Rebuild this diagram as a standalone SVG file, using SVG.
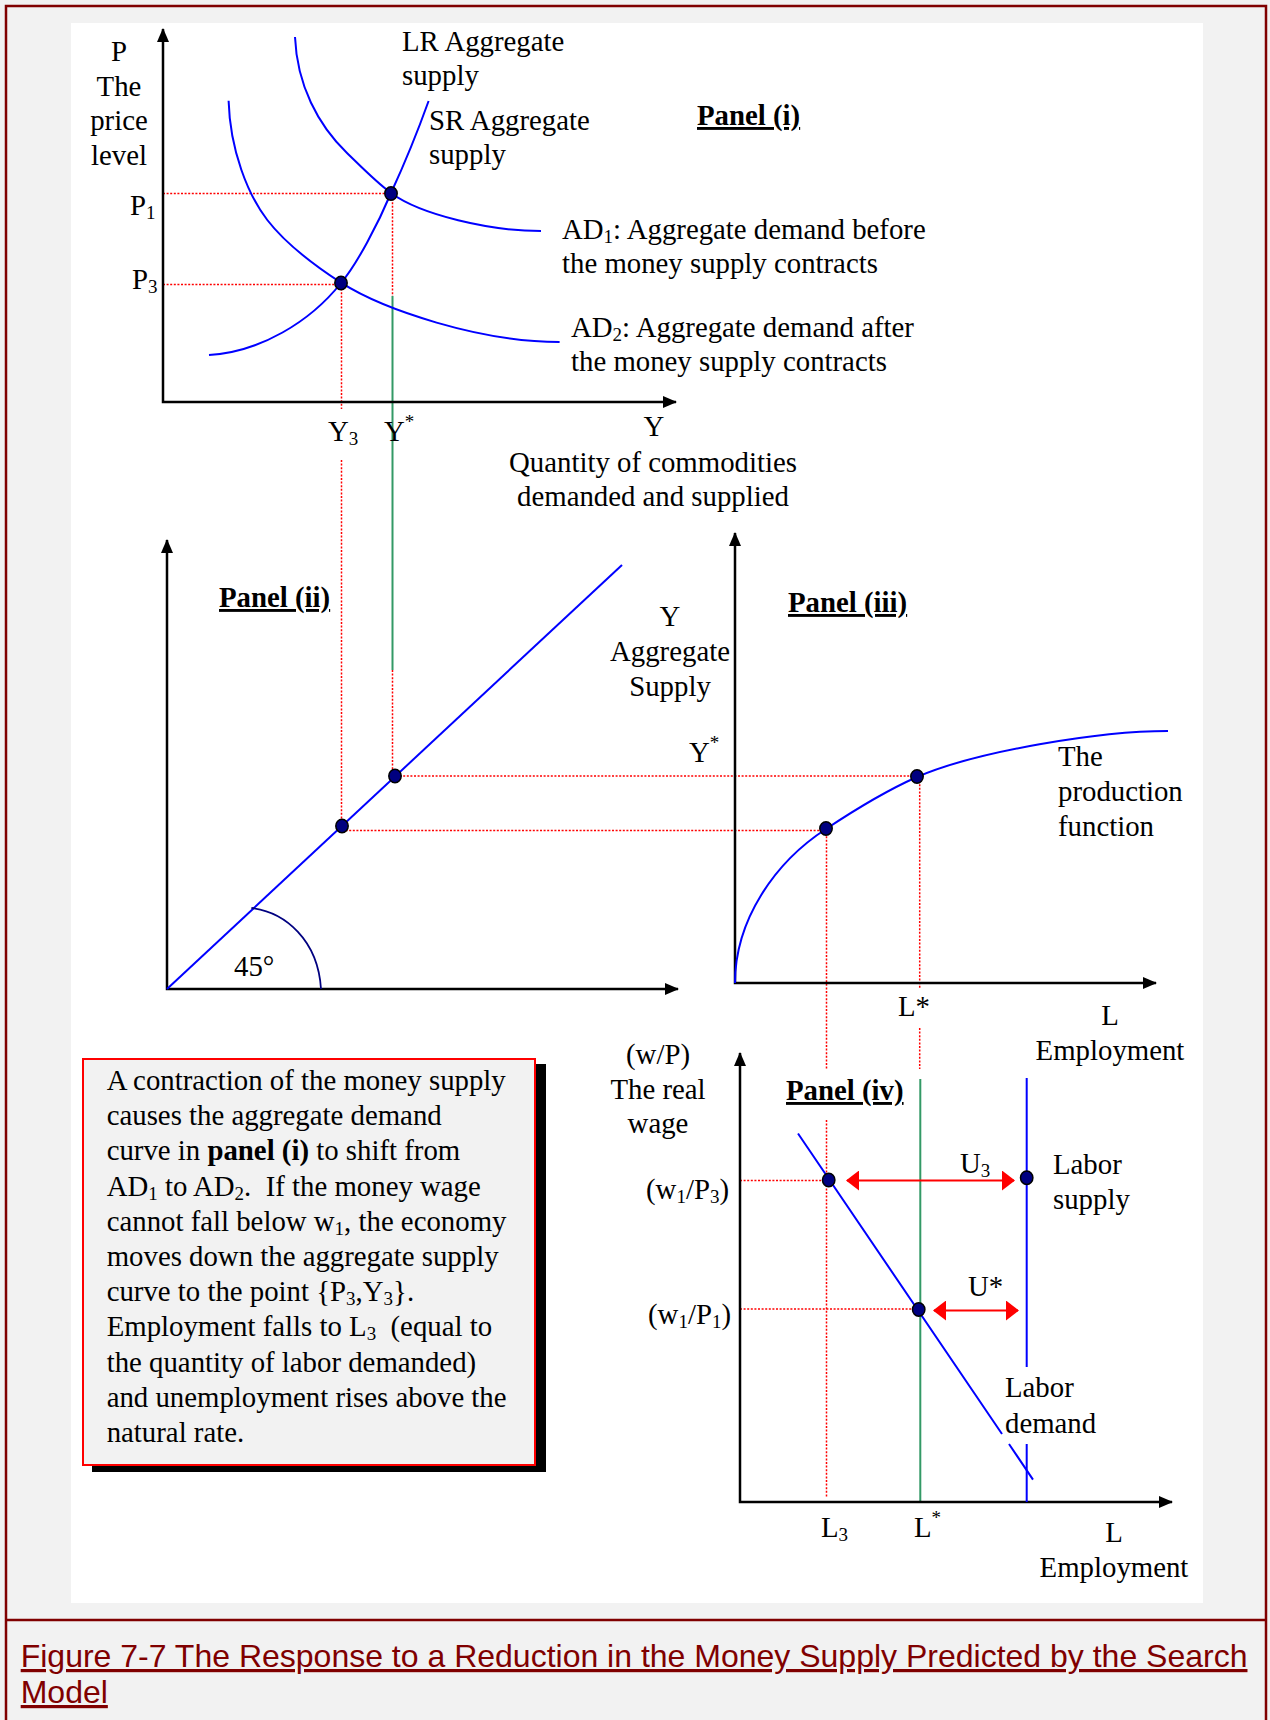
<svg xmlns="http://www.w3.org/2000/svg" width="1270" height="1720" viewBox="0 0 1270 1720">
<style>
.t{font-family:"Liberation Serif","Times New Roman",serif;font-size:28.8px;fill:#000}
.b{font-weight:bold;text-decoration:underline}
.m{text-anchor:middle}
.s{font-size:19px}
.cap{font-family:"Liberation Sans",Arial,sans-serif;font-size:32px;fill:#800000;text-decoration:underline}
.axis{fill:none;stroke:#000;stroke-width:2.5}
.curve{fill:none;stroke:#0000ff;stroke-width:2}
.dot{fill:#000080;stroke:#000;stroke-width:1.5}
.rd{fill:none;stroke:#ff0000;stroke-width:1.5;stroke-dasharray:2 1.6}
.gr{fill:none;stroke:#339966;stroke-width:2}
.ra{fill:none;stroke:#ff0000;stroke-width:2}
.frame{fill:none;stroke:#800000;stroke-width:2.5}
</style>
<defs>
<marker id="ax" markerUnits="userSpaceOnUse" markerWidth="14" markerHeight="12" refX="13" refY="6" orient="auto-start-reverse"><path d="M0,0 L14,6 L0,12 z" fill="#000"/></marker>
<marker id="rh" markerUnits="userSpaceOnUse" markerWidth="14" markerHeight="20" refX="12" refY="10" orient="auto-start-reverse"><path d="M0,0 L13,10 L0,20 z" fill="#ff0000"/></marker>
</defs>
<rect x="0" y="0" width="1270" height="1720" fill="#f2f2f2"/>
<rect x="71" y="23" width="1132" height="1580" fill="#fff"/>
<g id="frame">
<path class="frame" d="M6,1720 L6,6 L1266,6 L1266,1720 M6,1620 L1266,1620"/>
</g>

<g id="connectors">
<path class="rd" d="M163,193.5 L391,193.5"/>
<path class="rd" d="M163,284.5 L341,284.5"/>
<path class="rd" d="M341.5,285 L341.5,409"/>
<path class="rd" d="M392.5,195 L392.5,296"/>
<path class="gr" d="M392.5,296 L392.5,670"/>
<path class="rd" d="M341.5,460 L341.5,826"/>
<path class="rd" d="M392.5,670 L392.5,776"/>
<path class="rd" d="M396,776 L917,776"/>
<path class="rd" d="M342,830.5 L826,830.5"/>
<path class="rd" d="M826.5,829 L826.5,1069"/>
<path class="rd" d="M826.5,1120 L826.5,1498"/>
<path class="rd" d="M919.7,777 L919.7,988"/>
<path class="rd" d="M919.7,1028 L919.7,1069"/>
<path class="gr" d="M920.3,1079 L920.3,1502"/>
<path class="rd" d="M740,1180.5 L829,1180.5"/>
<path class="rd" d="M740,1309 L919,1309"/>
</g>

<g id="panel-i">
<path class="axis" d="M163,29 L163,402 L676,402" marker-start="url(#ax)" marker-end="url(#ax)"/>
<path id="ad1" class="curve" d="M295,37 C297,85 318,125 347,153 C362,167.5 376,182 391,193 C421,215 490,231 541,231"/>
<path id="ad2" class="curve" d="M228.6,100.7 C230,150 248,195 267.3,220 C286.6,245 321,269.7 341,282.7 C384,310 480,342 559.6,342"/>
<path id="sras" class="curve" d="M209,355 C260,352 310,322 341,283 C357,264 378,224 391,193 C403,167 420,125 428.6,101"/>
<ellipse class="dot" cx="391" cy="193.5" rx="6.2" ry="6.7"/>
<ellipse class="dot" cx="341" cy="283" rx="6.2" ry="6.7"/>
<text class="t m" x="119" y="61">P</text>
<text class="t m" x="119" y="96">The</text>
<text class="t m" x="119" y="130">price</text>
<text class="t m" x="119" y="165">level</text>
<text class="t" x="130" y="215">P<tspan class="s" dy="4">1</tspan></text>
<text class="t" x="132" y="289">P<tspan class="s" dy="4">3</tspan></text>
<text class="t" x="402" y="51">LR Aggregate</text>
<text class="t" x="402" y="85">supply</text>
<text class="t" x="429" y="130">SR Aggregate</text>
<text class="t" x="429" y="164">supply</text>
<text class="t b" x="697" y="125">Panel (i)</text>
<text class="t" x="562" y="239">AD<tspan class="s" dy="4">1</tspan><tspan dy="-4">: Aggregate demand before</tspan></text>
<text class="t" x="562" y="273">the money supply contracts</text>
<text class="t" x="571" y="337">AD<tspan class="s" dy="4">2</tspan><tspan dy="-4">: Aggregate demand after</tspan></text>
<text class="t" x="571" y="371">the money supply contracts</text>
<text class="t" x="328" y="441">Y<tspan class="s" dy="4">3</tspan></text>
<text class="t" x="384" y="441">Y<tspan class="s" dy="-13">*</tspan></text>
<text class="t m" x="654" y="436">Y</text>
<text class="t m" x="653" y="472">Quantity of commodities</text>
<text class="t m" x="653" y="506">demanded and supplied</text>
</g>

<g id="panel-ii">
<path class="axis" d="M167,540 L167,989 L678,989" marker-start="url(#ax)" marker-end="url(#ax)"/>
<path class="curve" d="M167,989 L622,565"/>
<path d="M251.4,908 C285,912 318,940 321,989" fill="none" stroke="#000080" stroke-width="1.8"/>
<ellipse class="dot" cx="342" cy="826" rx="6.2" ry="6.7"/>
<ellipse class="dot" cx="395" cy="776" rx="6.2" ry="6.7"/>
<text class="t b" x="219" y="607">Panel (ii)</text>
<text class="t" x="234" y="976">45°</text>
</g>

<g id="panel-iii">
<path class="axis" d="M735,533 L735,983 L1156,983" marker-start="url(#ax)" marker-end="url(#ax)"/>
<path class="curve" d="M735,983 C735,920 775,862 826,829 C856,809 890,789 917,777 C977,751 1100,731 1168,731"/>
<ellipse class="dot" cx="826" cy="828.5" rx="6.2" ry="6.7"/>
<ellipse class="dot" cx="917" cy="776.5" rx="6.2" ry="6.7"/>
<text class="t b" x="788" y="612">Panel (iii)</text>
<text class="t m" x="670" y="626">Y</text>
<text class="t m" x="670" y="661">Aggregate</text>
<text class="t m" x="670" y="696">Supply</text>
<text class="t" x="689" y="762">Y<tspan class="s" dy="-13">*</tspan></text>
<text class="t" x="1058" y="766">The</text>
<text class="t" x="1058" y="801">production</text>
<text class="t" x="1058" y="836">function</text>
<text class="t" x="898" y="1016">L*</text>
<text class="t m" x="1110" y="1025">L</text>
<text class="t m" x="1110" y="1060">Employment</text>
</g>

<g id="panel-iv">
<path class="axis" d="M740,1053 L740,1502 L1172,1502" marker-start="url(#ax)" marker-end="url(#ax)"/>
<path class="curve" stroke-width="1.6" d="M798,1133.5 L1002,1434 M1009,1444 L1033,1479.6"/>
<path class="curve" d="M1026.7,1078 L1026.7,1367 M1026.7,1444 L1026.7,1502"/>
<path class="ra" d="M847,1180.5 L1014,1180.5" marker-start="url(#rh)" marker-end="url(#rh)"/>
<path class="ra" d="M934,1310.5 L1018,1310.5" marker-start="url(#rh)" marker-end="url(#rh)"/>
<ellipse class="dot" cx="828.7" cy="1180" rx="6.2" ry="6.7"/>
<ellipse class="dot" cx="918.7" cy="1309.5" rx="6.2" ry="6.7"/>
<ellipse class="dot" cx="1026.7" cy="1177.7" rx="6.2" ry="6.7"/>
<text class="t b" x="786" y="1100">Panel (iv)</text>
<text class="t m" x="658" y="1064">(w/P)</text>
<text class="t m" x="658" y="1099">The real</text>
<text class="t m" x="658" y="1133">wage</text>
<text class="t" x="646" y="1199">(w<tspan class="s" dy="4">1</tspan><tspan dy="-4">/P</tspan><tspan class="s" dy="4">3</tspan><tspan dy="-4">)</tspan></text>
<text class="t" x="648" y="1324">(w<tspan class="s" dy="4">1</tspan><tspan dy="-4">/P</tspan><tspan class="s" dy="4">1</tspan><tspan dy="-4">)</tspan></text>
<text class="t" x="960" y="1173">U<tspan class="s" dy="4">3</tspan></text>
<text class="t" x="968" y="1296">U*</text>
<text class="t" x="1053" y="1174">Labor</text>
<text class="t" x="1053" y="1209">supply</text>
<text class="t" x="1005" y="1397">Labor</text>
<text class="t" x="1005" y="1433">demand</text>
<text class="t" x="821" y="1537">L<tspan class="s" dy="4">3</tspan></text>
<text class="t" x="914" y="1537">L<tspan class="s" dy="-13">*</tspan></text>
<text class="t m" x="1114" y="1542">L</text>
<text class="t m" x="1114" y="1577">Employment</text>
</g>

<g id="note">
<rect x="92" y="1064" width="454" height="408" fill="#000"/>
<rect x="83" y="1059" width="452" height="406" fill="#f2f2f2" stroke="#ff0000" stroke-width="2"/>
<text class="t" x="106.7" y="1090">A contraction of the money supply</text>
<text class="t" x="106.7" y="1125.2">causes the aggregate demand</text>
<text class="t" x="106.7" y="1160.4">curve in <tspan font-weight="bold">panel (i)</tspan> to shift from</text>
<text class="t" x="106.7" y="1195.6">AD<tspan class="s" dy="4">1</tspan><tspan dy="-4"> to AD</tspan><tspan class="s" dy="4">2</tspan><tspan dy="-4">.&#160; If the money wage</tspan></text>
<text class="t" x="106.7" y="1230.8">cannot fall below w<tspan class="s" dy="4">1</tspan><tspan dy="-4">, the economy</tspan></text>
<text class="t" x="106.7" y="1266">moves down the aggregate supply</text>
<text class="t" x="106.7" y="1301.2">curve to the point {P<tspan class="s" dy="4">3</tspan><tspan dy="-4">,Y</tspan><tspan class="s" dy="4">3</tspan><tspan dy="-4">}.</tspan></text>
<text class="t" x="106.7" y="1336.4">Employment falls to L<tspan class="s" dy="4">3</tspan><tspan dy="-4">&#160; (equal to</tspan></text>
<text class="t" x="106.7" y="1371.6">the quantity of labor demanded)</text>
<text class="t" x="106.7" y="1406.8">and unemployment rises above the</text>
<text class="t" x="106.7" y="1442">natural rate.</text>
</g>

<g id="caption">
<text class="cap" x="20.7" y="1667">Figure 7-7 The Response to a Reduction in the Money Supply Predicted by the Search</text>
<text class="cap" x="20.7" y="1703">Model</text>
</g>
</svg>
